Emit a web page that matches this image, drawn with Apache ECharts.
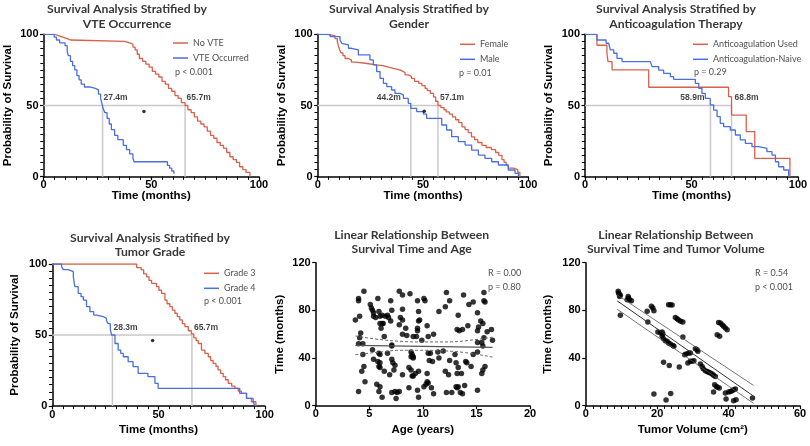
<!DOCTYPE html>
<html><head><meta charset="utf-8">
<script src="https://cdn.jsdelivr.net/npm/echarts/dist/echarts.min.js"></script>
<style>html,body{margin:0;padding:0;background:#fff}#c{width:810px;height:446px}</style>
</head><body><div id="c"></div>
<script>
// ---------- DATA ----------
const timeTicks = [0, 50, 100];
// Panel 1: VTE occurrence
const vteNo = [[0,100],[5.5,99],[7,98],[9,97],[11,96],[12.5,95],[37.5,94],[40,93],[41.5,91],[42.5,89],[43.5,86],[44.5,83],[46,81],[47.5,79],[49,77],[50.5,74],[52,72],[53.5,70],[55,67],[56.5,65],[58,62],[59.5,60],[61,57],[62.5,55],[64,52],[65.7,50],[67,47],[68.5,45],[70,42],[71.5,39],[73,37],[74.5,35],[76,32],[77.5,29],[79,27],[80.5,24],[82,22],[83.5,20],[85,17],[86.5,14],[88,12],[89.5,10],[91,7],[92.5,5],[94,3],[95.8,0]];
const vteYes = [[0,100],[5,98],[6,96],[7.5,94],[10,92],[11,88],[11.5,85],[12.5,81],[13.5,78],[14.5,75],[15.5,71],[16.5,68],[17.5,65],[19,63],[21.5,62],[24,61],[25.5,58],[26.5,55],[27.2,51],[27.6,48],[28.5,45],[29.5,41],[30.5,37],[31.5,33],[33,29],[34.5,26],[37,22],[38.5,19],[40,16],[41.5,13],[42,10.5],[57.5,8],[58.5,6],[59.5,4],[60.5,2]];
const vteMedians = [27.4, 65.7];
const vteMark = [46.6, 45.7];
// Panel 2: Gender
const female = [[0,100],[4.3,99],[8.2,97],[9.3,95],[9.8,92],[10.5,89],[11,87],[12,85],[13,83],[14.5,82],[16,80.5],[18,79.5],[23.5,78.5],[27.5,78],[31,77],[33.5,76],[36,75],[39,74],[40.5,73],[41.5,71.5],[43,70.5],[44.5,69],[46,67],[48,65.5],[49.5,64],[51,62],[52,60.5],[53.5,58.5],[55,56],[56,53],[57.1,50],[58.5,48.5],[60,47],[61,45.5],[62.5,44],[64,42],[65.5,40],[67,38],[68.5,35],[70,33],[71.5,31],[73,28],[74.5,26],[76,24],[78,22],[80,20.5],[82.5,19],[84.5,17],[86,15],[87.5,12],[88.5,10],[89.5,8],[90.5,6],[93,5],[95,3],[96,0]];
const male = [[0,100],[5.9,98.4],[10.6,96],[11.4,93.7],[12.2,92.5],[14.6,90.2],[16.1,89],[19.3,85.5],[24.8,82],[26.4,78.5],[28,73.8],[29.6,69.1],[31.2,65.6],[32.8,63.2],[35.1,60.9],[36.7,58.5],[39.1,57.4],[40.7,55],[43,51.5],[44.2,48],[47,45.7],[50.2,44],[51.7,41],[58.9,36.3],[61.2,32.8],[63.6,28.1],[66.8,24.6],[70,22.2],[73.1,18.7],[76.3,15.2],[79.4,12.9],[82.6,10.5],[85.8,8.2],[90.5,4.7],[93.7,2.3],[95.3,0]];
const genderMedians = [44.2, 57.1];
const genderMark = [50.6, 46];
// Panel 3: Anticoagulation
const acUsed = [[0,100],[5.6,92.3],[10.3,86.7],[10.8,80.8],[12.7,75],[29.9,62.8],[67.4,56.2],[68.8,43.3],[75.7,31.6],[79.7,12.9],[96.2,0]];
const acNaive = [[0,100],[5.6,96],[9.9,93.7],[11.1,92.5],[11.9,89],[13.5,86.7],[15,83.1],[17.4,80.8],[30.7,79.6],[31.5,77.3],[34.6,74.9],[36.9,72.6],[40.1,70.3],[41.6,68.4],[51.8,65.6],[53.4,62.1],[54.9,58.5],[56.5,55],[58.8,50.4],[60.4,46.8],[62,42.2],[63.5,37.5],[65.1,35.1],[68.2,32.8],[70.6,29.3],[72.9,25.8],[75.3,23.4],[78.4,21.1],[81.5,19.9],[85.4,17.6],[87.8,15.2],[89.4,10.5],[90.9,7],[93.3,4.7],[95.6,0]];
const acMedians = [58.9, 68.8];
// Panel 4: Tumor grade
const grade3 = [[0,100],[39.7,97.5],[41.8,95.8],[43,93],[44.4,91],[45.5,88.5],[46.7,86.4],[49,84],[50.2,81.5],[51.4,79.3],[53,74.6],[54,72],[55.3,70],[56.5,67.5],[57.7,65.3],[58.8,63],[60,60.6],[61.2,58],[62.4,55.9],[64,53],[65.5,50.7],[66.6,48],[67.7,46],[68.7,44],[70.2,39.4],[71.8,37],[73.4,34.7],[74.5,32],[75.7,30],[77,28],[78,25.4],[79.2,23],[80.4,20.7],[81.6,18.5],[82.8,16],[84.4,14],[85.9,12.4],[87.5,10.5],[89,8.9],[91.4,5.4],[93.7,3],[95.8,0]];
const grade4 = [[0,100],[4.4,98],[5.2,96],[7.5,94.6],[9.9,91],[10.6,84],[12.2,79.3],[13.5,77],[14.6,74.6],[16.1,70],[17.7,66.4],[19.5,64],[20.8,63],[24,61.7],[25.5,60],[26.3,58],[27.3,54],[27.9,50],[29.5,44],[31,39.4],[32.2,37],[33.4,34.7],[35.7,31.2],[38,27.7],[40.4,23],[45,20.7],[48.3,16],[49.8,12.4],[88.2,8.9],[91.4,5.4],[94.5,3],[95.3,0]];
const gradeMedians = [28.3, 65.7];
const gradeMark = [47.2, 46.2];
// Panel 5: age vs survival time
const agePoints = [[4.5,96],[4.0,90],[4.0,88],[5.8,90],[7.0,88],[7.8,96],[8.1,93],[8.8,94],[9.5,88],[10.1,90],[10.2,88],[12.2,95],[12.5,88],[13.8,93],[14.3,85],[14.7,87],[15.7,95],[15.7,88],[15.8,87],[12.1,83],[11.5,79],[4.1,75],[3.7,72],[5.1,85],[5.2,82],[5.3,80],[5.4,78],[5.4,75],[5.6,74],[5.9,79],[6.0,75],[6.2,76],[6.5,75],[6.7,76],[6.8,74],[6.0,69],[6.2,69],[6.1,65],[6.3,69],[7.0,71],[7.1,80],[8.1,81],[7.9,74],[8.1,72],[7.8,68],[8.4,65],[9.6,79],[9.7,72],[9.6,71],[9.5,65],[9.5,63],[9.4,58],[9.1,58],[8.5,59],[8.1,60],[10.4,67],[11.0,60],[10.5,58],[9.9,55],[13.3,76],[13.2,64],[13.4,63],[13.7,64],[14.2,67],[15.1,78],[15.4,71],[15.6,69],[15.2,66],[15.1,63],[16.0,62],[16.4,64],[16.5,55],[15.7,57],[15.5,53],[15.6,50],[15.1,53],[4.2,61],[4.1,57],[4.4,52],[4.0,52],[4.4,43],[5.3,47],[5.9,44],[6.0,43],[6.7,44],[7.1,51],[7.1,50],[6.4,58],[5.4,39],[5.8,37],[6.0,36],[5.9,33],[6.0,32],[7.1,39],[7.2,36],[7.4,34],[7.3,30],[6.9,26],[6.4,29],[8.1,26],[8.9,45],[9.0,43],[8.9,41],[9.1,41],[9.1,40],[8.7,32],[8.9,30],[9.1,25],[9.0,25],[9.3,27],[9.6,29],[10.5,44],[10.7,44],[10.6,38],[10.9,37],[11.4,45],[11.5,40],[11.9,46],[12.1,29],[12.4,26],[12.5,38],[13.0,43],[13.1,36],[13.3,32],[13.2,27],[13.6,27],[14.0,37],[14.1,36],[14.5,33],[14.7,43],[15.1,45],[15.6,30],[15.5,27],[15.8,33],[4.5,33],[4.3,29],[4.6,20],[5.7,18],[6.0,16],[5.9,12],[6.2,7],[7.1,11],[7.4,12],[7.6,11],[7.8,12],[7.5,6],[8.7,15],[9.5,13],[9.6,7],[10.4,20],[10.1,16],[10.3,18],[10.5,19],[10.8,15],[11.0,10],[10.4,27],[12.2,11],[12.7,11],[13.1,16],[13.2,15],[13.5,11],[13.7,10],[13.9,17],[13.3,16],[15.1,13],[4.0,12]];
const ageFit = [[3.7,50.6],[16.5,49]];
const ageUpper = [[3.7,58.5],[6,55.5],[8,54],[10,53.5],[12,53.5],[14,54.5],[16.5,57.5]];
const ageLower = [[3.7,42.8],[6,45],[8,46.5],[10,46.5],[12,46],[14,44.5],[16.5,40.8]];
// Panel 6: tumor volume vs survival time
const volPoints = [[9.1,96],[9.2,94.5],[9.4,93.7],[9.7,92.6],[9.5,91.7],[9.7,75.8],[11.9,91.7],[12.0,90.3],[12.3,88.9],[12.8,88.1],[11.6,88.9],[17.2,79.2],[17.4,70.2],[18.4,83.4],[18.8,82],[19.1,79.7],[23.2,84.8],[23.7,84.8],[24.2,84.5],[25.1,74.1],[25.6,73],[26.0,71.9],[26.6,70.8],[27.2,70.2],[27.2,57.6],[20.2,61.8],[20.9,61.3],[21.4,61.8],[21.6,60.1],[21.4,58.2],[21.8,56.2],[22.3,54.5],[22.8,54],[23.2,52.6],[23.7,51.7],[24.4,50.6],[24.7,49.8],[21.8,36.4],[23.4,33.8],[26.2,32.4],[19.1,9.8],[23.8,10.3],[22.5,4.8],[27.7,42.8],[28.1,43.4],[28.8,44.2],[29.3,44.2],[28.6,35.8],[29.3,37.2],[29.8,37.2],[30.3,37.8],[30.7,47.8],[31.2,47],[31.4,45.6],[32.1,35],[32.6,33],[32.9,31],[33.5,29.4],[34,28.8],[34.4,28],[34.9,27.4],[35.4,26.6],[35.8,25.5],[36.3,24.6],[36.1,17.6],[36.6,16.2],[36.9,15.4],[37.4,14.8],[35.8,11.5],[37.2,69.9],[37.7,69.4],[38.2,68],[38.6,66.6],[39.1,65.2],[39.6,63.8],[36.8,59.6],[37.5,58.2],[39.1,10.6],[40.0,11.5],[40.5,12],[41.0,12.6],[41.4,13.4],[41.9,14],[39.3,5.6],[41.4,4.2],[42.1,5],[46.7,6.4]];
const volFit = [[8.8,88],[47,8]];
const volUpper = [[8.8,93],[47,17]];
const volLower = [[8.8,81],[47,2]];

// ---------- STYLE ----------
const RED = '#d9604a', BLUE = '#4a6fe2';
const F = '"Liberation Sans", Arial, sans-serif';
const FT = 'Lato, "Liberation Sans", sans-serif';

const grids = [
  {left:43.5, top:34.3, width:215.5, height:142.4},
  {left:317.7, top:34.3, width:210.6, height:142.4},
  {left:585, top:34.3, width:213, height:142.4},
  {left:52.3, top:264, width:212.5, height:142},
  {left:315.7, top:262.7, width:214.3, height:143},
  {left:585.7, top:262.7, width:214.3, height:143}
].map(g => Object.assign({containLabel:false, outerBoundsMode:'none'}, g));

function axisBase(gi, o) {
  return Object.assign({
    gridIndex: gi, type: 'value',
    nameLocation: 'middle',
    nameMoveOverlap: false,
    nameTextStyle: {fontFamily: F, fontWeight: 'bold', fontSize: 11.5, color: '#000'},
    axisLine: {show: true, lineStyle: {color: '#000', width: 1.5}},
    axisTick: {show: true, inside: false, length: 3.5, lineStyle: {color: '#000', width: 1.2}},
    minorTick: {show: false},
    splitLine: {show: false},
    minorSplitLine: {show: false},
    axisLabel: {fontFamily: F, fontWeight: 'bold', fontSize: 11, color: '#000', margin: 3}
  }, o);
}
const minor = n => ({show: true, splitNumber: n, length: 3.2, lineStyle: {color: '#000', width: 1}});
const yLabel = {fontFamily: F, fontWeight: 'bold', fontSize: 11, color: '#000', margin: 5};

const xAxes = [], yAxes = [];
for (let i = 0; i < 4; i++) {
  xAxes.push(axisBase(i, {min: timeTicks[0], max: timeTicks[2], interval: timeTicks[1] - timeTicks[0],
    name: 'Time (months)', nameGap: i < 3 ? 13.5 : 18, minorTick: minor(10)}));
  yAxes.push(axisBase(i, {min: 0, max: 100, interval: 50, name: 'Probability of Survival',
    nameGap: i < 3 ? 30 : 31.5, minorTick: minor(10), axisLabel: yLabel}));
}
xAxes.push(axisBase(4, {min: 0, max: 20, interval: 5, name: 'Age (years)', nameGap: 18}));
yAxes.push(axisBase(4, {min: 0, max: 120, interval: 40, name: 'Time (months)', nameGap: 30, axisLabel: yLabel}));
xAxes.push(axisBase(5, {min: 0, max: 60, interval: 20, name: 'Tumor Volume (cm²)', nameGap: 18, minorTick: minor(10)}));
yAxes.push(axisBase(5, {min: 0, max: 120, interval: 40, name: 'Time (months)', nameGap: 31.5, axisLabel: yLabel}));

const series = [];
function km(gi, name, data, color) {
  series.push({type: 'line', name, xAxisIndex: gi, yAxisIndex: gi, data, step: 'end',
    symbol: 'none', color, lineStyle: {color, width: 1.3}, z: 5, silent: true});
}
function medians(gi, meds, labelSides, dists) {
  const maxM = Math.max(...meds);
  const grey = {color: '#c9c9c9', width: 1.5};
  series.push({type: 'line', xAxisIndex: gi, yAxisIndex: gi, data: [[0, 50], [maxM, 50]],
    symbol: 'none', lineStyle: grey, z: 2, silent: true});
  meds.forEach((m, k) => {
    series.push({type: 'line', xAxisIndex: gi, yAxisIndex: gi, data: [[m, 0], [m, 50]],
      symbol: 'none', lineStyle: grey, z: 2, silent: true});
    series.push({type: 'scatter', xAxisIndex: gi, yAxisIndex: gi, data: [[m, 50]], symbolSize: 0, z: 6, silent: true,
      label: {show: true, position: labelSides[k], distance: dists[k], offset: [0, -7.5],
        formatter: m.toFixed(1) + 'm', fontFamily: F, fontWeight: 'bold', fontSize: 8.5, color: '#111'}});
  });
}
function mark(gi, pt) {
  series.push({type: 'scatter', xAxisIndex: gi, yAxisIndex: gi, data: [pt], symbolSize: 3.5,
    itemStyle: {color: '#000'}, z: 6, silent: true});
}

km(0, 'No VTE', vteNo, RED); km(0, 'VTE Occurred', vteYes, BLUE);
medians(0, vteMedians, ['right', 'right'], [1, 1.5]); mark(0, vteMark);
km(1, 'Female', female, RED); km(1, 'Male', male, BLUE);
medians(1, genderMedians, ['left', 'right'], [10, 2]); mark(1, genderMark);
km(2, 'Anticoagulation Used', acUsed, RED); km(2, 'Anticoagulation-Naive', acNaive, BLUE);
medians(2, acMedians, ['left', 'right'], [6, 3]);
km(3, 'Grade 3', grade3, RED); km(3, 'Grade 4', grade4, BLUE);
medians(3, gradeMedians, ['right', 'right'], [1, 2]); mark(3, gradeMark);

series.push({type: 'scatter', xAxisIndex: 4, yAxisIndex: 4, data: agePoints, symbolSize: 5.5,
  itemStyle: {color: '#000'}, z: 3, silent: true});
series.push({type: 'line', xAxisIndex: 4, yAxisIndex: 4, data: ageFit, symbol: 'none',
  lineStyle: {color: '#555', width: 1.3}, z: 4, silent: true});
[ageUpper, ageLower].forEach(d => series.push({type: 'line', xAxisIndex: 4, yAxisIndex: 4, data: d, symbol: 'none', smooth: true,
  lineStyle: {color: '#666', width: 1, type: [3, 2]}, z: 4, silent: true}));

series.push({type: 'scatter', xAxisIndex: 5, yAxisIndex: 5, data: volPoints, symbolSize: 5.5,
  itemStyle: {color: '#000'}, z: 3, silent: true});
series.push({type: 'line', xAxisIndex: 5, yAxisIndex: 5, data: volFit, symbol: 'none',
  lineStyle: {color: '#333', width: 1}, z: 4, silent: true});
[volUpper, volLower].forEach(d => series.push({type: 'line', xAxisIndex: 5, yAxisIndex: 5, data: d, symbol: 'none',
  lineStyle: {color: '#555', width: 0.8}, z: 4, silent: true}));

function legend(names, left, top) {
  return {data: names, left, top, orient: 'vertical', icon: 'rect', itemWidth: 15, itemHeight: 1.5,
    itemGap: 3, padding: 0, selectedMode: false,
    textStyle: {fontFamily: FT, fontSize: 9, color: '#505050', lineHeight: 12}};
}
const legends = [
  legend(['No VTE', 'VTE Occurred'], 173, 37),
  legend(['Female', 'Male'], 460, 38.3),
  legend(['Anticoagulation Used', 'Anticoagulation-Naive'], 693, 38.3),
  legend(['Grade 3', 'Grade 4'], 204, 267.3)
];

const titles = [
  ['Survival Analysis Stratified by\nVTE Occurrence', 127, 2, 14.7],
  ['Survival Analysis Stratified by\nGender', 409, 2, 14.7],
  ['Survival Analysis Stratified by\nAnticoagulation Therapy', 676, 2, 14.7],
  ['Survival Analysis Stratified by\nTumor Grade', 150, 230.8, 14.3],
  ['Linear Relationship Between\nSurvival Time and Age', 411.7, 227.8, 14.3],
  ['Linear Relationship Between\nSurvival Time and Tumor Volume', 675.8, 227.8, 14.3]
];
const notes = [
  ['p < 0.001', 175, 72], ['p = 0.01', 459, 72.7], ['p = 0.29', 694, 71.7], ['p < 0.001', 204, 301],
  ['R = 0.00', 488, 273.3], ['p = 0.80', 488, 286.7], ['R = 0.54', 755, 273.3], ['p < 0.001', 755, 286.7]
];
const graphics = titles.map(([t, x, y, lh]) => ({type: 'text', x, y, silent: true,
  style: {text: t, align: 'center', verticalAlign: 'top', fontFamily: FT, fontWeight: 'bold', fontSize: 12.2,
    lineHeight: lh, fill: '#383838'}}))
  .concat(notes.map(([t, x, y]) => ({type: 'text', x, y, silent: true,
    style: {text: t, align: 'left', verticalAlign: 'middle', fontFamily: FT, fontSize: 9, fill: '#505050'}})));

const chart = echarts.init(document.getElementById('c'), null, {renderer: 'canvas'});
chart.setOption({
  animation: false,
  backgroundColor: '#fff',
  grid: grids,
  xAxis: xAxes,
  yAxis: yAxes,
  legend: legends,
  series,
  graphic: graphics
});
</script></body></html>
